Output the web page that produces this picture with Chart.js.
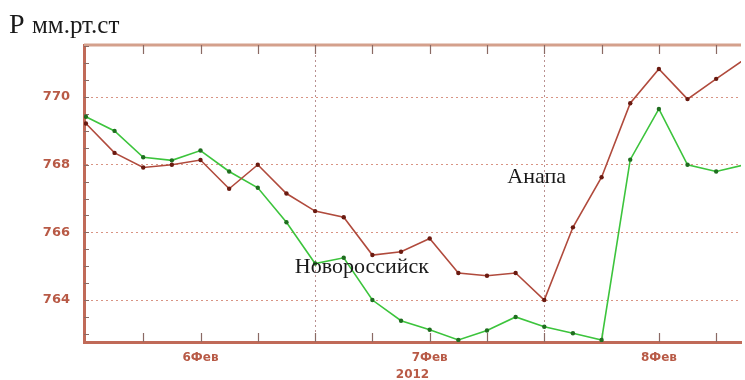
<!DOCTYPE html>
<html>
<head>
<meta charset="utf-8">
<script src="https://cdn.jsdelivr.net/npm/chart.js@4.4.1/dist/chart.umd.min.js"></script>
<style>
body{margin:0;background:#fff}
</style>
</head>
<body>
<canvas id="myChart" width="745" height="380"></canvas>
<script>
// hours from 6 Feb 2012 00:00, one reading every 3 hours
var hours=[-12,-9,-6,-3,0,3,6,9,12,15,18,21,24,27,30,33,36,39,42,45,48,51,54,57]
var anapa=[769.22,768.35,767.92,768.0,768.14,767.29,768.0,767.15,766.63,766.45,765.33,765.43,765.82,764.8,764.72,764.8,764.0,766.15,767.63,769.82,770.83,769.94,770.54,771.12]
var novoross=[769.42,769.0,768.22,768.13,768.42,767.8,767.32,766.3,765.08,765.25,764.0,763.39,763.12,762.82,763.1,763.5,763.21,763.02,762.82,768.15,769.65,768.0,767.8,768.0]
var xTicks=[-6,0,6,12,18,24,30,36,42,48,54]
var dayHours=[0,24,48]
var dayLabels=["6Фев","7Фев","8Фев"]
var yTicks=[763,763.5,764,764.5,765,765.5,766,766.5,767,767.5,768,768.5,769,769.5,770,770.5,771,771.5]

var axisCol="#c06a58"
var labelCol="#b85a46"

function pts(xs,ys)
{
    let a=[]
    for(let i=0;i<xs.length;i++)
    {
        a.push({x:xs[i],y:ys[i]})
    }
    return a
}

var extras={
    id:"extras",
    beforeDatasetsDraw(chart)
    {
        let ctx=chart.ctx
        let a=chart.chartArea
        let xs=chart.scales.x
        let ys=chart.scales.y
        ctx.save()
        // top frame line
        ctx.strokeStyle="#d4a08c"
        ctx.lineWidth=3
        ctx.beginPath()
        ctx.moveTo(a.left,a.top)
        ctx.lineTo(a.right,a.top)
        ctx.stroke()
        // inward tick marks
        ctx.strokeStyle="#8a6a64"
        ctx.lineWidth=1.2
        ctx.beginPath()
        xs.ticks.forEach(t=>{
            let px=Math.round(xs.getPixelForValue(t.value))+0.5
            ctx.moveTo(px,a.bottom)
            ctx.lineTo(px,a.bottom-9)
            ctx.moveTo(px,a.top)
            ctx.lineTo(px,a.top+9)
        })
        ys.ticks.forEach(t=>{
            let py=Math.round(ys.getPixelForValue(t.value))+0.5
            ctx.moveTo(a.left,py)
            ctx.lineTo(a.left+5,py)
        })
        ctx.stroke()
        ctx.restore()
    },
    afterDraw(chart)
    {
        let ctx=chart.ctx
        let xs=chart.scales.x
        let ys=chart.scales.y
        ctx.save()
        ctx.fillStyle="#1a1a1a"
        ctx.textBaseline="alphabetic"
        ctx.textAlign="left"
        ctx.font="28px 'Liberation Serif'"
        ctx.fillText("P",9,33)
        ctx.font="25px 'Liberation Serif'"
        ctx.fillText("мм.рт.ст",32,33)
        ctx.textAlign="center"
        ctx.textBaseline="middle"
        ctx.font="22px 'Liberation Serif'"
        ctx.fillText("Анапа",xs.getPixelForValue(35.2),ys.getPixelForValue(767.62))
        ctx.fillText("Новороссийск",xs.getPixelForValue(16.9),ys.getPixelForValue(764.96))
        ctx.restore()
    }
}

new Chart(document.getElementById("myChart"),{
    type:"line",
    data:{
        datasets:[
            {
                label:"Анапа",
                data:pts(hours,anapa),
                borderColor:"#b04a3c",
                borderWidth:1.6,
                pointRadius:2.2,
                pointBackgroundColor:"#6a1a10",
                pointBorderWidth:0,
                tension:0
            },
            {
                label:"Новороссийск",
                data:pts(hours,novoross),
                borderColor:"#3cc43c",
                borderWidth:1.6,
                pointRadius:2.2,
                pointBackgroundColor:"#1f6e1f",
                pointBorderWidth:0,
                tension:0
            }
        ]
    },
    options:{
        responsive:false,
        animation:false,
        devicePixelRatio:1,
        layout:{padding:{top:45,left:0,right:0,bottom:0}},
        plugins:{legend:{display:false},tooltip:{enabled:false}},
        scales:{
            x:{
                type:"linear",
                min:-12.2,
                max:56.6,
                afterBuildTicks:(s)=>{s.ticks=xTicks.map(v=>({value:v}))},
                afterFit:(s)=>{s.height=38},
                ticks:{
                    autoSkip:false,
                    maxRotation:0,
                    padding:9,
                    color:labelCol,
                    font:{family:"DejaVu Sans",size:12,weight:"bold"},
                    callback:(v)=>{
                        let i=dayHours.indexOf(v)
                        return i>=0?dayLabels[i]:""
                    }
                },
                grid:{
                    drawTicks:false,
                    lineWidth:1,
                    color:(c)=>(c.tick&&((c.tick.value%24)+24)%24===12)?"#b89090":"rgba(0,0,0,0)"
                },
                border:{color:axisCol,width:3,dash:[2,3]},
                title:{
                    display:true,
                    text:"2012",
                    color:labelCol,
                    padding:{top:0,bottom:-2},
                    font:{family:"DejaVu Sans",size:12,weight:"bold"}
                }
            },
            y:{
                min:762.76,
                max:771.54,
                afterBuildTicks:(s)=>{s.ticks=yTicks.map(v=>({value:v}))},
                afterFit:(s)=>{s.width=84},
                ticks:{
                    autoSkip:false,
                    padding:14,
                    color:labelCol,
                    font:{family:"DejaVu Sans",size:13,weight:"bold"},
                    callback:(v)=>(v%2===0?String(v):"")
                },
                grid:{
                    drawTicks:false,
                    lineWidth:1,
                    color:(c)=>(c.tick&&c.tick.value%2===0)?"#d89484":"rgba(0,0,0,0)"
                },
                border:{color:axisCol,width:3,dash:[2,3]}
            }
        }
    },
    plugins:[extras]
})
</script>
</body>
</html>
